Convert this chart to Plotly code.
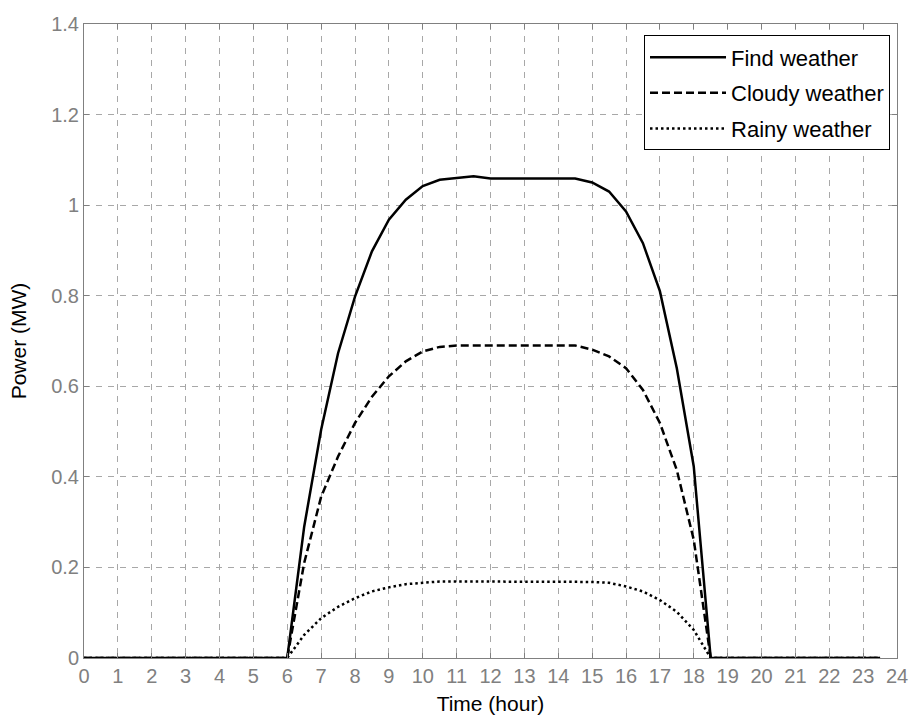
import plotly.graph_objects as go

hours = [i * 0.5 for i in range(48)]  # 0 .. 23.5

fine_day = {6: 0.0, 6.5: 0.29, 7: 0.504, 7.5: 0.673, 8: 0.798, 8.5: 0.898, 9: 0.968,
            9.5: 1.012, 10: 1.042, 10.5: 1.056, 11: 1.060, 11.5: 1.064, 12: 1.059,
            12.5: 1.059, 13: 1.059, 13.5: 1.059, 14: 1.059, 14.5: 1.059, 15: 1.050,
            15.5: 1.030, 16: 0.986, 16.5: 0.916, 17: 0.81, 17.5: 0.64, 18: 0.423, 18.5: 0.0}
cloudy_day = {6: 0.0, 6.5: 0.21, 7: 0.356, 7.5: 0.445, 8: 0.519, 8.5: 0.577, 9: 0.622,
              9.5: 0.655, 10: 0.677, 10.5: 0.687, 11: 0.690, 11.5: 0.690, 12: 0.690,
              12.5: 0.690, 13: 0.690, 13.5: 0.690, 14: 0.690, 14.5: 0.690, 15: 0.681,
              15.5: 0.666, 16: 0.640, 16.5: 0.592, 17: 0.519, 17.5: 0.415, 18: 0.261, 18.5: 0.0}
rainy_day = {6: 0.0, 6.5: 0.051, 7: 0.088, 7.5: 0.113, 8: 0.132, 8.5: 0.147, 9: 0.156,
             9.5: 0.163, 10: 0.166, 10.5: 0.169, 11: 0.169, 11.5: 0.169, 12: 0.169,
             12.5: 0.169, 13: 0.169, 13.5: 0.169, 14: 0.169, 14.5: 0.169, 15: 0.168,
             15.5: 0.166, 16: 0.158, 16.5: 0.147, 17: 0.128, 17.5: 0.102, 18: 0.062, 18.5: 0.0}

fine = [fine_day.get(h, 0.0) for h in hours]
cloudy = [cloudy_day.get(h, 0.0) for h in hours]
rainy = [rainy_day.get(h, 0.0) for h in hours]

series_names = ["Find weather", "Cloudy weather", "Rainy weather"]
x_ticks = list(range(0, 25))
y_ticks = [0, 0.2, 0.4, 0.6, 0.8, 1, 1.2, 1.4]
y_tick_text = ["0", "0.2", "0.4", "0.6", "0.8", "1", "1.2", "1.4"]

FONT = "Liberation Sans, Arial, sans-serif"

fig = go.Figure()
fig.add_trace(go.Scatter(x=hours, y=fine, mode="lines", name=series_names[0], legendgroup="a",
                         line=dict(color="black", width=2.5, dash="solid")))
fig.add_trace(go.Scatter(x=hours, y=cloudy, mode="lines", name=series_names[1], legendgroup="b",
                         line=dict(color="black", width=2.5, dash="8px,4px")))
fig.add_trace(go.Scatter(x=hours, y=rainy, mode="lines", name=series_names[2], legendgroup="c",
                         line=dict(color="black", width=2.5, dash="2.5px,3px")))

axis_common = dict(
    showline=True, linecolor="#808080", linewidth=1, mirror="ticks",
    showgrid=True, gridcolor="#a8a8a8", griddash="6px,6px", gridwidth=1,
    zeroline=False, ticks="inside", ticklen=5, tickcolor="#808080",
    tickfont=dict(family=FONT, size=20, color="#808080"),
    automargin=False,
)

fig.update_xaxes(range=[0, 24], tickvals=x_ticks,
                 title=dict(text="Time (hour)", standoff=10,
                            font=dict(family=FONT, size=21, color="black")),
                 **axis_common)
fig.update_yaxes(range=[0, 1.4], tickvals=y_ticks, ticktext=y_tick_text,
                 title=dict(text="Power (MW)", standoff=18,
                            font=dict(family=FONT, size=21, color="black")),
                 **axis_common)

fig.update_layout(
    width=911, height=715,
    margin=dict(l=84, r=14, t=24, b=57),
    plot_bgcolor="white", paper_bgcolor="white",
    font=dict(family=FONT, color="black"),
    legend=dict(x=0.9914, y=0.982, xanchor="right", yanchor="top",
                bgcolor="white", bordercolor="black", borderwidth=1,
                font=dict(family=FONT, size=22, color="black"),
                itemwidth=76, tracegroupgap=4),
    showlegend=True,
)

fig.write_html("out.html", config={"displayModeBar": False},
               post_script="document.body.style.margin='0';")
